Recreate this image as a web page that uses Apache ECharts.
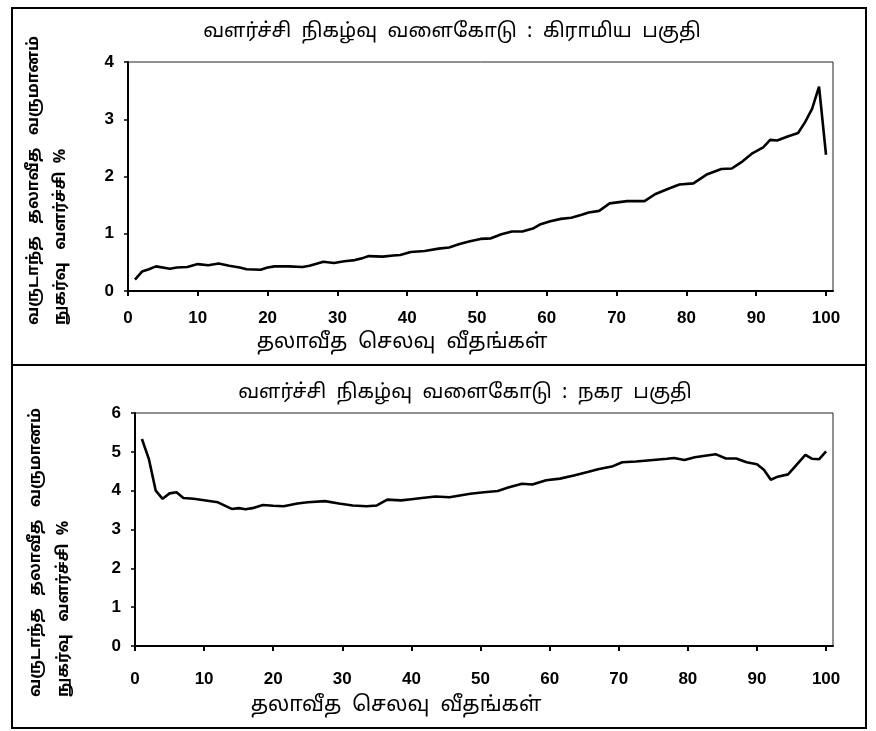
<!DOCTYPE html>
<html>
<head>
<meta charset="utf-8">
<script src="https://cdn.jsdelivr.net/npm/echarts@6/dist/echarts.min.js"></script>
<style>
html,body{margin:0;padding:0;background:#fff;}
#c{width:876px;height:731px;}
</style>
</head>
<body>
<div id="c"></div>
<script>
// ---- Data ----
const titleRural = 'வளர்ச்சி  நிகழ்வு  வளைகோடு  :  கிராமிய  பகுதி';
const titleUrban = 'வளர்ச்சி  நிகழ்வு  வளைகோடு  :  நகர  பகுதி';
const yTitleLine1 = 'வருடாந்த   தலாவீத   வருமானம்';
const yTitleLine2 = 'நுகர்வு   வளர்ச்சி  %';
const xTitle = 'தலாவீத  செலவு  வீதங்கள்';
const xTickValues = [0, 10, 20, 30, 40, 50, 60, 70, 80, 90, 100];

const ruralX = [1, 2, 3, 4, 6, 7, 8.5, 10, 11.5, 13, 14.5, 16, 17, 19, 20, 21, 23, 25, 26, 28, 29.5, 31, 32.5, 33.5, 34.5, 36.5, 38, 39, 40.5, 42.5, 44.5, 46, 47.5, 49, 50.5, 52, 53.5, 55, 56.5, 58, 59, 60.5, 62, 63.5, 65, 66, 67.5, 69, 71.5, 74, 75.5, 77.5, 79, 81, 83, 85, 86.5, 88, 89.5, 91, 92, 93, 94.5, 96, 97, 98, 99, 100];
const ruralY = [0.20, 0.34, 0.38, 0.43, 0.39, 0.41, 0.42, 0.47, 0.45, 0.48, 0.44, 0.41, 0.38, 0.37, 0.41, 0.43, 0.43, 0.42, 0.44, 0.51, 0.49, 0.52, 0.54, 0.57, 0.61, 0.60, 0.62, 0.63, 0.68, 0.70, 0.74, 0.76, 0.82, 0.87, 0.91, 0.92, 0.99, 1.04, 1.04, 1.09, 1.16, 1.22, 1.26, 1.28, 1.33, 1.37, 1.40, 1.53, 1.57, 1.57, 1.69, 1.79, 1.86, 1.88, 2.04, 2.13, 2.14, 2.26, 2.41, 2.51, 2.64, 2.63, 2.70, 2.76, 2.95, 3.18, 3.57, 2.38];

const urbanX = [1, 2, 3, 4, 5, 6, 7, 8.5, 10.5, 12, 14, 15, 16, 17, 18.5, 20, 21.5, 23.5, 25, 27.5, 29.5, 31.5, 33.5, 35, 36.5, 38.5, 40, 41.5, 43.5, 45.5, 48.5, 50.5, 52.5, 54, 56, 57.5, 59.5, 61.5, 63.5, 65.5, 67, 69, 70.5, 72.5, 75, 77, 78, 79.5, 81, 82.5, 84, 85.5, 87, 88.5, 90, 91, 92, 93, 94.5, 95.5, 97, 98, 99, 100];
const urbanY = [5.33, 4.82, 4.00, 3.79, 3.93, 3.96, 3.81, 3.79, 3.74, 3.70, 3.53, 3.55, 3.52, 3.55, 3.63, 3.61, 3.60, 3.67, 3.70, 3.73, 3.67, 3.62, 3.60, 3.62, 3.77, 3.75, 3.78, 3.81, 3.85, 3.83, 3.92, 3.96, 3.99, 4.08, 4.18, 4.16, 4.27, 4.31, 4.39, 4.48, 4.55, 4.62, 4.73, 4.75, 4.79, 4.82, 4.84, 4.79, 4.86, 4.90, 4.94, 4.83, 4.83, 4.73, 4.68, 4.54, 4.28, 4.36, 4.42, 4.62, 4.92, 4.82, 4.81, 5.01];

// ---- Chart ----
const TAMIL = "'Noto Sans Tamil','Lohit Tamil','Latha','Noto Sans',sans-serif";
const NUM = "'Liberation Sans',Arial,sans-serif";
const pair = (xs, ys) => xs.map((x, i) => [x, ys[i]]);

function xAxisFor(gi, margin) {
  return {
    type: 'value', gridIndex: gi, min: 0, max: 101,
    axisLine: { show: true, lineStyle: { color: '#000', width: 2 } },
    axisTick: { show: true, customValues: xTickValues, length: 5, lineStyle: { color: '#000', width: 2 } },
    axisLabel: { customValues: xTickValues, color: '#000', fontFamily: NUM, fontWeight: 'bold', fontSize: 17, margin: margin },
    splitLine: { show: false }
  };
}
function yAxisFor(gi, max) {
  return {
    type: 'value', gridIndex: gi, min: 0, max: max, interval: 1,
    axisLine: { show: true, lineStyle: { color: '#000', width: 2 } },
    axisTick: { show: true, length: 4, lineStyle: { color: '#000', width: 1.5 } },
    axisLabel: { color: '#000', fontFamily: NUM, fontWeight: 'bold', fontSize: 17, margin: 14 },
    splitLine: { show: false }
  };
}
function vText(x, y, text) {
  return { type: 'text', x: x, y: y, rotation: Math.PI / 2,
    style: { text: text, fill: '#000', font: "bold 16px " + TAMIL, textAlign: 'left', textVerticalAlign: 'middle' } };
}
function hText(x, y, text, size) {
  return { type: 'text', x: x, y: y,
    style: { text: text, fill: '#000', font: (size || 16) + "px " + TAMIL, textAlign: 'center', textVerticalAlign: 'middle' } };
}

const chart = echarts.init(document.getElementById('c'), null, { renderer: 'canvas' });
chart.setOption({
  backgroundColor: '#fff',
  animation: false,
  grid: [
    { left: 128, top: 62, right: 43, bottom: 440, show: true, borderColor: '#222', borderWidth: 1 },
    { left: 135, top: 413, right: 43, bottom: 85, show: true, borderColor: '#222', borderWidth: 1 }
  ],
  xAxis: [xAxisFor(0, 19), xAxisFor(1, 25)],
  yAxis: [yAxisFor(0, 4), yAxisFor(1, 6)],
  series: [
    { type: 'line', xAxisIndex: 0, yAxisIndex: 0, data: pair(ruralX, ruralY), showSymbol: false,
      lineStyle: { color: '#000', width: 2.6 } },
    { type: 'line', xAxisIndex: 1, yAxisIndex: 1, data: pair(urbanX, urbanY), showSymbol: false,
      lineStyle: { color: '#000', width: 2.6 } }
  ],
  graphic: [
    { type: 'rect', shape: { x: 12, y: 8, width: 854, height: 357 }, style: { fill: 'none', stroke: '#000', lineWidth: 2 } },
    { type: 'rect', shape: { x: 12, y: 365, width: 854, height: 363 }, style: { fill: 'none', stroke: '#000', lineWidth: 2 } },
    hText(452, 33, titleRural, 20),
    hText(465, 394, titleUrban, 20),
    hText(402, 344, xTitle, 21),
    hText(396, 707, xTitle, 21),
    vText(35, 325, yTitleLine1),
    vText(62, 325, yTitleLine2),
    vText(37, 697, yTitleLine1),
    vText(65, 697, yTitleLine2)
  ]
});
</script>
</body>
</html>
